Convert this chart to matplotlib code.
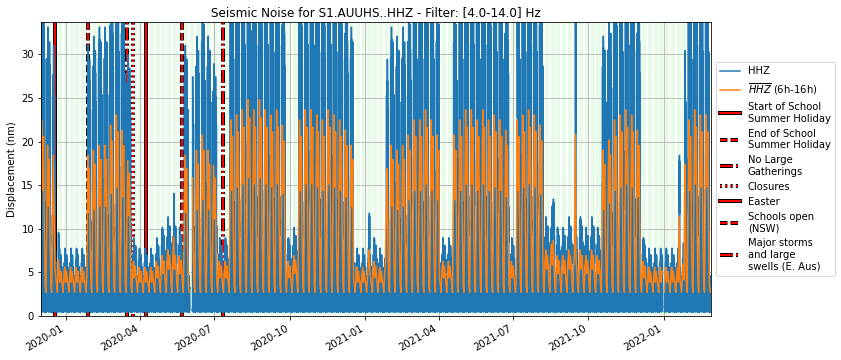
import numpy as np
import pandas as pd
import matplotlib
matplotlib.use('Agg')
import matplotlib.pyplot as plt
import matplotlib.patheffects as pe
import matplotlib.dates as mdates

# weekly school-day peak of the HHZ noise (nm), one value per week from Monday 2019-12-02
first_monday = '2019-12-02'
week_peak = [
    36, 31, 29, 6, 6, 6, 6, 6, 29, 30, 31, 31, 35,
    37, 34, 28, 7, 6, 6, 6, 7, 8, 9, 9, 8, 29,
    27, 30, 33, 30, 27, 7, 7, 36, 37, 38, 40, 38, 40,
    38, 37, 38, 35, 7, 8, 36, 38, 38, 37, 36, 38, 37,
    36, 34, 31, 6, 6, 6, 7, 6, 29, 31, 30, 31, 33,
    36, 36, 38, 36, 33, 7, 7, 33, 36, 38, 38, 36, 38,
    36, 37, 36, 34, 7, 36, 37, 38, 37, 35, 9, 10, 8,
    8, 9, 8, 9, 8, 9, 8, 30, 32, 36, 37, 38, 37,
    34, 7, 6, 6, 6, 6, 6, 6, 30, 36, 38, 37, 37,
]
# Mon..Fri: share of the weekly peak and spread of the activity over the school day
weekday_factor = [0.95, 1.05, 0.88, 1.0, 0.82]
weekday_spread = [0.5, 1.0, 0.7, 0.95, 0.4]
# Mon..Sun scaling of the background noise, Mon..Fri scaling of quiet days
day_factor = [1.0, 1.15, 0.9, 1.1, 0.95, 0.85, 0.8]
quiet_factor = [1.0, 1.2, 0.9, 1.1, 0.95]
weekend_peak = [5.0, 3.8]
holiday_peak = 6.5
peak_hour = 9

# holidays / lockdowns
quiet_start = ['2019-12-19', '2020-03-23', '2020-07-04', '2020-09-26', '2020-12-18',
               '2021-04-02', '2021-06-26', '2021-08-07', '2021-12-04']
quiet_end = ['2020-01-28', '2020-05-25', '2020-07-20', '2020-10-12', '2021-01-27',
             '2021-04-19', '2021-07-06', '2021-10-18', '2022-01-27']

spike_dates = ['2019-12-23', '2020-05-12', '2021-01-06', '2021-08-19', '2021-09-15', '2022-01-20']
spike_peaks = [9.5, 13.5, 12.0, 13.0, 36.0, 18.0]

gap_start = ['2020-06-01', '2021-12-31']
gap_end = ['2020-06-03', '2022-01-01']

# hourly shape of one day: background level and share of the daytime activity
hour_base = [0.7, 0.6, 0.5, 0.5, 0.6, 0.9, 1.6, 2.4, 2.9, 3.1, 3.2, 3.2,
             3.1, 3.2, 3.1, 2.9, 2.6, 2.3, 2.0, 1.8, 1.6, 1.4, 1.1, 0.8]
hour_activity = [0, 0, 0, 0, 0, 0, 0.02, 0.25, 0.75, 1.0, 0.6, 0.7,
                 0.55, 0.95, 0.8, 0.35, 0.1, 0.02, 0, 0, 0, 0, 0, 0]

event_dates = ['2019-12-19', '2020-01-28', '2020-03-16', '2020-03-23',
               '2020-04-08', '2020-05-22', '2020-07-12']
event_labels = ['Start of School\nSummer Holiday', 'End of School\nSummer Holiday',
                'No Large\nGatherings', 'Closures', 'Easter', 'Schools open\n(NSW)',
                'Major storms\nand large\nswells (E. Aus)']
event_styles = ['-', '--', '-.', ':', '-', '--', '-.']

days = pd.date_range(first_monday, periods=len(week_peak) * 7, freq='D')
level, spread = [], []
for i, d in enumerate(days):
    w, wd = divmod(i, 7)
    quiet = any(pd.Timestamp(s) <= d < pd.Timestamp(e) for s, e in zip(quiet_start, quiet_end))
    sp = 1.0
    if wd >= 5:
        lv = weekend_peak[wd - 5]
    elif quiet:
        lv = (week_peak[w] if week_peak[w] < 15 else holiday_peak) * quiet_factor[wd]
    else:
        lv = week_peak[w] * weekday_factor[wd]
        sp = weekday_spread[wd]
    level.append(lv)
    spread.append(sp)
level = pd.Series(level, index=days)
spread = pd.Series(spread, index=days)
for d, p in zip(spike_dates, spike_peaks):
    level[pd.Timestamp(d)] = p

scale = np.array([day_factor[i % 7] for i in range(len(days))])[:, None]
act = np.array(hour_activity)[None, :] * spread.values[:, None]
act[:, peak_hour] = hour_activity[peak_hour]
lv = np.clip(level.values[:, None] - 3, 0, None)
vals = np.array(hour_base)[None, :] * scale + act * lv
idx = pd.date_range(first_monday, periods=vals.size, freq='h')
hhz = pd.Series(vals.ravel(), index=idx)
for s, e in zip(gap_start, gap_end):
    hhz[s:e] = np.nan
day_mean = hhz.between_time('06:00', '16:00').resample('1D').mean()

fig = plt.figure(figsize=(841 / 72, 360 / 72), dpi=72)
ax = fig.add_axes([0.0488, 0.1222, 0.7966, 0.8167])

for d in days[::7]:
    ax.axvspan(d, d + pd.Timedelta(days=5), color='lightgreen', alpha=0.2, lw=0, zorder=0)

ax.plot(hhz.index, hhz.values, label='HHZ', zorder=2)
ax.plot(day_mean.index, day_mean.values, label='$\\overline{HHZ}$ (6h-16h)', zorder=2.1)

for d, lab, ls in zip(event_dates, event_labels, event_styles):
    ax.axvline(pd.Timestamp(d), color='w', lw=4, zorder=1.6)
    ax.axvline(pd.Timestamp(d), color='r', lw=2, ls=ls, label=lab, zorder=1.7,
               path_effects=[pe.withStroke(linewidth=4, foreground='k')])

ax.grid(True, color='#b0b0b0', zorder=1.5)
ax.set_ylim(0, 33.7)
ax.set_xlim(hhz.index[0], hhz.index[-1])
ax.xaxis.set_major_locator(mdates.MonthLocator(bymonth=[1, 4, 7, 10]))
ax.xaxis.set_major_formatter(mdates.DateFormatter('%Y-%m'))
for t in ax.get_xticklabels():
    t.set_rotation(30)
    t.set_ha('right')
ax.set_ylabel('Displacement (nm)')
ax.set_title('Seismic Noise for S1.AUUHS..HHZ - Filter: [4.0-14.0] Hz', fontsize=12)
ax.legend(loc='center left', bbox_to_anchor=(1.0, 0.5))

fig.savefig('out.png', dpi=72)
